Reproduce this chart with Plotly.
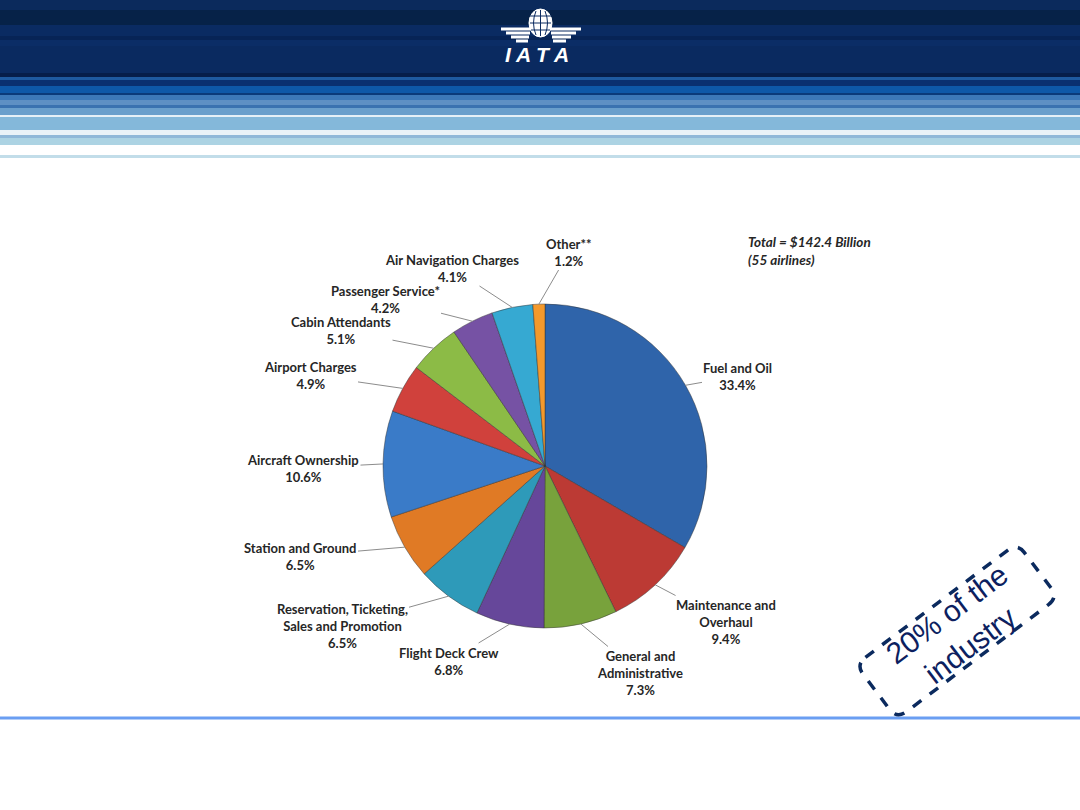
import math
import plotly.graph_objects as go

# ---------------- data ----------------
categories = ["Fuel and Oil", "Maintenance and Overhaul", "General and Administrative",
              "Flight Deck Crew", "Reservation, Ticketing, Sales and Promotion",
              "Station and Ground", "Aircraft Ownership", "Airport Charges",
              "Cabin Attendants", "Passenger Service*", "Air Navigation Charges", "Other**"]
label_texts = ["Fuel and Oil", "Maintenance and<br>Overhaul", "General and<br>Administrative",
               "Flight Deck Crew", "Reservation, Ticketing,<br>Sales and Promotion",
               "Station and Ground", "Aircraft Ownership", "Airport Charges",
               "Cabin Attendants", "Passenger Service*", "Air Navigation Charges", "Other**"]
shares = [33.4, 9.4, 7.3, 6.8, 6.5, 6.5, 10.6, 4.9, 5.1, 4.2, 4.1, 1.2]
total_note = "Total = $142.4 Billion<br>(55 airlines)"
callout = "20% of the<br>industry"
logo_text = "I A T A"

# ---------------- style ----------------
colors = ["#2F64AA", "#BC3A34", "#78A23C", "#66479A", "#2E9AB9", "#E07A25",
          "#3A7BC8", "#D0413C", "#8CBB46", "#7652A4", "#36A9D2", "#F4992C"]
W, H = 1080, 810
CX, CY, R = 545, 466, 162
# label centres (pixels), one per category
label_pos = [(738, 376), (726, 622), (640, 673), (449, 661), (342, 626), (300, 556),
             (303, 468), (310, 375), (341, 330), (385, 299), (452, 268), (569, 252)]
label_font = dict(family="Lato, Open Sans, sans-serif", size=13, color="#262626")


def px(x):
    return x / W


def py(y):
    return 1 - y / H


fig = go.Figure()
fig.add_trace(go.Pie(
    labels=categories, values=shares, sort=False, direction="clockwise", rotation=0,
    marker=dict(colors=colors, line=dict(color="rgba(50,50,50,0.6)", width=0.8)),
    textinfo="none", hoverinfo="label+percent", showlegend=False,
    domain=dict(x=[px(CX - R), px(CX + R)], y=[py(CY + R), py(CY - R)]),
))

shapes = []
# header stripes (y0, y1, color)
stripes = [(0, 10, "#0B2A5C"), (10, 25, "#062248"), (25, 36, "#0A2B62"), (36, 40, "#072456"),
           (40, 46, "#0B2D66"), (46, 73, "#0A2A60"), (73, 77, "#061E4A"), (77, 80, "#1E5AA0"),
           (80, 86, "#0A3070"), (86, 93, "#0E58A8"), (93, 95, "#0A3A7A"), (95, 100, "#3C78B8"),
           (100, 105, "#5E90C4"), (105, 108, "#3A72B0"), (108, 115, "#6A9FCC"),
           (115, 117, "#E6F0F7"), (117, 130, "#84B8DA"), (130, 135, "#EAF2F7"),
           (135, 138, "#90B8D8"), (138, 145, "#ACD3E3"), (145, 155, "#FFFFFF"),
           (155, 158, "#C2DDE9")]
for y0, y1, c in stripes:
    shapes.append(dict(type="rect", xref="paper", yref="paper", x0=0, x1=1, y0=py(y1), y1=py(y0),
                       fillcolor=c, line=dict(width=0), layer="below"))

# IATA logo: globe and wings
NAVY = "#0A2A60"
shapes.append(dict(type="circle", xref="paper", yref="paper", x0=px(529), x1=px(552),
                   y0=py(37), y1=py(9), fillcolor="white", line=dict(color="white", width=1)))
shapes.append(dict(type="line", xref="paper", yref="paper", x0=px(540.5), x1=px(540.5),
                   y0=py(10), y1=py(36), line=dict(color=NAVY, width=1)))
shapes.append(dict(type="path", xref="paper", yref="paper",
                   path=f"M {px(536)},{py(11)} Q {px(531)},{py(23)} {px(536)},{py(35)}",
                   line=dict(color=NAVY, width=1)))
shapes.append(dict(type="path", xref="paper", yref="paper",
                   path=f"M {px(545)},{py(11)} Q {px(550)},{py(23)} {px(545)},{py(35)}",
                   line=dict(color=NAVY, width=1)))
for yy in [16, 23, 30]:
    shapes.append(dict(type="line", xref="paper", yref="paper", x0=px(530), x1=px(551),
                       y0=py(yy), y1=py(yy), line=dict(color=NAVY, width=1)))
for k, yy in enumerate([29, 33, 37, 41]):
    shapes.append(dict(type="line", xref="paper", yref="paper", x0=px(501 + 5 * k), x1=px(531 - k),
                       y0=py(yy), y1=py(yy), line=dict(color="white", width=3)))
    shapes.append(dict(type="line", xref="paper", yref="paper", x0=px(550 + k), x1=px(581 - 5 * k),
                       y0=py(yy), y1=py(yy), line=dict(color="white", width=3)))

# bottom rule
shapes.append(dict(type="line", xref="paper", yref="paper", x0=0, x1=1, y0=py(718), y1=py(718),
                   line=dict(color="#6A9EF2", width=3)))

# rotated dashed callout box
bc, ang, a, b, rr = (957, 631), math.radians(37), 101, 34, 12
u = (math.cos(ang), -math.sin(ang))
v = (math.sin(ang), math.cos(ang))


def P(s, t):
    x = bc[0] + s * u[0] + t * v[0]
    y = bc[1] + s * u[1] + t * v[1]
    return f"{px(x):.5f},{py(y):.5f}"


path = (f"M {P(-a + rr, -b)} L {P(a - rr, -b)} Q {P(a, -b)} {P(a, -b + rr)} "
        f"L {P(a, b - rr)} Q {P(a, b)} {P(a - rr, b)} L {P(-a + rr, b)} "
        f"Q {P(-a, b)} {P(-a, b - rr)} L {P(-a, -b + rr)} Q {P(-a, -b)} {P(-a + rr, -b)} Z")
shapes.append(dict(type="path", xref="paper", yref="paper", path=path,
                   line=dict(color="#0B2A5E", width=3.5, dash="dash")))

annotations = []
# leader-line labels
cum = 0.0
tot = sum(shares)
for name, txt, val, (lx, ly) in zip(categories, label_texts, shares, label_pos):
    mid = (cum + val / 2) / tot * 2 * math.pi
    cum += val
    axp = CX + R * math.sin(mid)
    ayp = CY - R * math.cos(mid)
    annotations.append(dict(
        x=px(axp), y=py(ayp), xref="paper", yref="paper",
        ax=lx - axp, ay=ly - ayp, axref="pixel", ayref="pixel",
        text=f"<b>{txt}<br>{val:.1f}%</b>", showarrow=True, arrowhead=0, arrowwidth=1,
        arrowcolor="#8C8C8C", standoff=0, startstandoff=0,
        font=label_font, align="center"))

annotations.append(dict(x=px(746), y=py(232), xref="paper", yref="paper", xanchor="left",
                        yanchor="top", showarrow=False, align="left",
                        text=f"<b><i>{total_note}</i></b>",
                        font=dict(family="Lato, Open Sans, sans-serif", size=13.5, color="#262626")))
annotations.append(dict(x=px(537), y=py(55), xref="paper", yref="paper", showarrow=False,
                        xanchor="center", yanchor="middle",
                        text=f"<b><i>{logo_text}</i></b>",
                        font=dict(family="Liberation Sans, Arial, sans-serif", size=21, color="white")))
annotations.append(dict(x=px(958), y=py(630), xref="paper", yref="paper", showarrow=False,
                        xanchor="center", yanchor="middle",
                        text=callout, textangle=-37,
                        font=dict(family="Liberation Sans, Arial, sans-serif", size=30, color="#0D1F5F")))

fig.update_layout(width=W, height=H, margin=dict(l=0, r=0, t=0, b=0),
                  paper_bgcolor="white", plot_bgcolor="white",
                  shapes=shapes, annotations=annotations)
fig.write_html("out.html", config={"displayModeBar": False},
               post_script="document.body.style.margin='0px';")
